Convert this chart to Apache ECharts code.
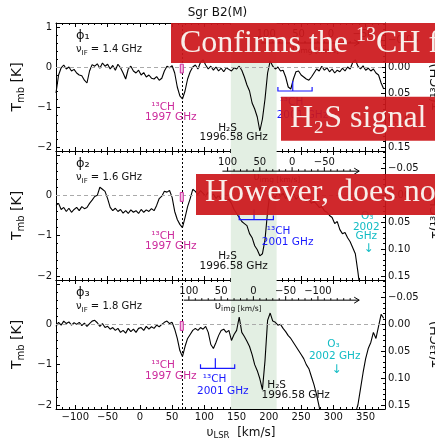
<!DOCTYPE html>
<html><head><meta charset="utf-8">
<script src="https://cdn.jsdelivr.net/npm/echarts@6/dist/echarts.min.js"></script>
<style>html,body{margin:0;padding:0;background:#fff}#c{width:435px;height:439px}</style>
</head><body><div id="c"></div>
<script>
// ---------------- DATA ----------------
const velocity = [
 -130,-126,-122,-118,-114,-110,-106,-102,
 -98,-94,-90,-86,-82,-78,-74,-70,
 -66,-62,-58,-54,-50,-46,-42,-38,
 -34,-30,-26,-22,-18,-14,-10,-6,
 -2,2,6,10,14,18,22,26,
 30,34,38,42,46,50,54,58,
 62,66,70,74,78,82,86,90,
 94,98,102,106,110,114,118,122,
 126,130,134,138,142,146,150,154,
 158,162,166,170,174,178,182,186,
 190,194,198,202,206,210,214,218,
 222,226,230,234,238,242,246,250,
 254,258,262,266,270,274,278,282,
 286,290,294,298,302,306,310,314,
 318,322,326,330,334,338,342,346,
 350,354,358,362,366,370,374,378
];
const tmbPhi1 = [
 -0.65,-0.2,-0.02,0.05,-0.05,0.0,-0.1,-0.06,
 -0.15,-0.2,-0.22,-0.33,-0.4,-0.1,0.06,0.02,
 0.08,-0.03,0.1,0.02,0.07,-0.05,0.04,-0.08,
 0.07,-0.02,-0.15,-0.3,-0.05,0.02,-0.1,-0.15,
 -0.08,-0.2,-0.14,-0.25,-0.2,-0.28,-0.3,-0.24,
 -0.33,-0.28,-0.1,0.02,-0.02,0.03,-0.15,-0.5,
 -0.72,-0.8,-0.6,-0.3,-0.12,0.0,0.05,-0.05,
 0.12,0.18,0.05,-0.05,0.02,-0.08,0.0,-0.1,
 -0.03,-0.12,-0.02,-0.06,-0.1,-0.02,-0.05,0.02,
 -0.08,-0.25,-0.45,-0.6,-0.9,-1.05,-1.25,-1.6,
 -1.3,-0.8,-0.15,0.15,0.02,-0.05,0.0,-0.1,
 -0.08,-0.25,-0.5,-0.55,-0.3,-0.12,-0.1,-0.2,
 -0.25,-0.3,-0.33,-0.25,-0.15,-0.05,-0.1,0.02,
 -0.08,-0.02,-0.12,-0.05,-0.15,-0.08,-0.12,-0.03,
 -0.1,0.0,-0.05,0.12,0.18,0.02,-0.05,0.03,
 -0.08,-0.03,-0.1,-0.05,-0.15,-0.2,-0.4,-0.55
];
const tmbPhi2 = [
 -0.25,-0.2,-0.35,-0.3,-0.4,-0.32,-0.42,-0.35,
 -0.3,-0.38,-0.28,-0.33,-0.3,-0.2,-0.12,-0.03,
 0.0,0.2,0.15,0.1,-0.08,-0.3,-0.38,-0.32,
 -0.4,-0.35,-0.44,-0.38,-0.45,-0.36,-0.42,-0.38,
 -0.45,-0.35,-0.42,-0.36,-0.4,-0.33,-0.38,-0.25,
 -0.08,-0.02,0.1,0.08,0.12,-0.05,-0.4,-0.6,
 -0.72,-0.8,-0.55,-0.28,-0.08,0.15,0.1,0.02,
 0.12,0.05,-0.02,0.08,-0.05,0.03,-0.08,0.0,
 -0.1,-0.05,-0.15,-0.1,-0.2,-0.35,-0.45,-0.55,
 -0.65,-0.7,-0.75,-0.95,-1.05,-1.25,-1.35,-1.5,
 -1.45,-1.1,-0.4,0.1,0.05,-0.05,0.08,-0.02,
 0.05,-0.08,0.0,-0.05,0.05,-0.1,-0.03,-0.12,
 -0.05,-0.15,-0.1,-0.2,-0.15,-0.22,-0.3,-0.28,
 -0.38,-0.42,-0.5,-0.55,-0.7,-0.65,-0.85,-0.95,
 -0.92,-1.05,-1.15,-1.3,-1.45,-1.9,-2.4,-2.6,
 -2.8,-3.0,-3.0,-2.9,-2.8,-2.6,-2.5,-2.4
];
const tmbPhi3 = [
 -0.05,0.05,-0.02,0.08,0.02,0.06,-0.02,0.04,
 0.0,0.05,-0.03,0.03,-0.05,0.02,0.08,0.1,
 0.04,-0.05,0.02,-0.08,-0.05,-0.12,-0.08,-0.15,
 -0.1,-0.2,-0.15,-0.22,-0.1,-0.18,-0.12,-0.2,
 -0.1,-0.08,-0.15,-0.05,-0.12,-0.06,-0.1,-0.02,
 -0.06,0.0,0.05,0.08,0.02,0.05,-0.12,-0.35,
 -0.65,-0.8,-0.55,-0.35,-0.25,-0.15,-0.1,-0.15,
 -0.08,-0.12,-0.05,-0.2,-0.5,-0.6,-0.45,-0.28,
 -0.15,-0.12,-0.2,-0.15,-0.4,-0.25,-0.15,0.18,
 -0.2,-0.3,-0.42,-0.55,-0.75,-1.0,-1.15,-1.35,
 -1.62,-0.9,0.1,0.28,0.08,0.05,-0.02,0.0,
 -0.1,-0.18,-0.28,-0.35,-0.45,-0.55,-0.65,-0.75,
 -0.85,-1.0,-1.1,-1.3,-1.5,-1.75,-2.05,-2.4,
 -2.6,-2.8,-3.0,-3.0,-3.0,-3.0,-3.0,-3.0,
 -2.9,-2.8,-2.6,-2.4,-2.2,-2.0,-1.6,-1.2,
 -0.85,-0.6,-0.45,-0.2,-0.35,-0.05,0.25,0.15
];
const panelLabels = ['\u03D5\u2081','\u03D5\u2082','\u03D5\u2083'];
const ifFreqs = ['1.4 GHz','1.6 GHz','1.8 GHz'];
const xTicks = [-100,-50,0,50,100,150,200,250,300,350];
const tmbTicks = [-2,-1,0,1];
const tauTicks = [-0.05,0,0.05,0.10,0.15];
const imgZeroLSR = [296,236,176];
const imgTickLabels = [[100,50,0,-50],[100,50,0,-50],[100,50,0,-50,-100]];
const hfs13CH2001 = [[214,237,267],[154,177,207],[94,117,147]];
const v13CH1997 = 65;
const h2sBand = [141,212];
const bannerTexts = ['{m|Confirms the }{u|13}{m|CH feature}','H\u2082S signal likely','However, does not explain'];

// ---------------- LAYOUT / STYLE ----------------
const FONT = 'DejaVu Sans';
const MAGENTA = '#cc2a9c', BLUE = '#1a1aff', CYAN = '#12bcc4', INK = '#111';
const GRIDS = [{top:23,height:128},{top:151,height:129},{top:280,height:129}];
const tmbRange = [-2.1, 1.1];
const tauRange = [-0.0825, 0.1575];
const xRange = [-130, 380];
const annot = [
  {ch97:[[36,-1.0],[48,-1.26]], h2s:[[136,-1.53],[145.5,-1.75]], ch01:[[235,-0.87],[252,-1.2]], brT:-0.6, o3:null},
  {ch97:[[36,-1.01],[48,-1.27]], h2s:[[136,-1.52],[145.5,-1.77]], ch01:[[215,-0.89],[229,-1.16]], brT:-0.6,
   o3:{lines:[[352.5,-0.52,'O\u2083'],[351,-0.8,'2002'],[351,-1.01,'GHz']], arrow:[354.5,-1.34]}},
  {ch97:[[36,-1.01],[48,-1.28]], h2s:[[212,-1.52],[241.5,-1.77]], ch01:[[116,-1.36],[128.5,-1.65]], brT:-1.09,
   o3:{lines:[[300.3,-0.49,'O\u2083'],[302,-0.79,'2002 GHz']], arrow:[305,-1.13]}}
];
const series3 = [tmbPhi1, tmbPhi2, tmbPhi3];
const minusFmt = v => String(v).replace('-', '\u2212');
function range(a,b,s){const r=[];for(let k=0;a+k*s<=b+1e-9;k++)r.push(+(a+k*s).toFixed(4));return r;}
const xMinor = range(-130,380,10);
const tmbMinor = range(-2.0,1.0,0.2);
const tauMinor = range(-0.08,0.15,0.01);

function txt(x,y,text,extra){
  return {type:'text', x:x, y:y, silent:true, style:Object.assign({text:text, fill:INK, fontSize:10, fontFamily:FONT,
    align:'center', verticalAlign:'middle', textAlign:'center', textVerticalAlign:'middle'}, extra||{})};
}

const xAxes=[], yAxes=[], seriesList=[];
const tickStyle = {color:'#000', width:1};
for (let i=0;i<3;i++){
  const base = {gridIndex:i, type:'value', min:xRange[0], max:xRange[1], splitLine:{show:false}};
  xAxes.push(Object.assign({}, base, {position:'bottom', axisLine:{onZero:false, lineStyle:{color:'#000',width:1}},
    axisTick:{inside:true, length:4, customValues:xTicks, lineStyle:tickStyle},
    axisLabel:{show:i===2, customValues:xTicks, formatter:minusFmt, fontSize:10, color:INK, fontFamily:FONT, margin:3}}));
  xAxes.push(Object.assign({}, base, {position:'bottom', axisLine:{show:false, onZero:false},
    axisTick:{inside:true, length:2, customValues:xMinor, lineStyle:tickStyle}, axisLabel:{show:false}}));
  xAxes.push(Object.assign({}, base, {position:'top', axisLine:{onZero:false, lineStyle:{color:'#000',width:1}},
    axisTick:{inside:true, length:4, customValues:xTicks, lineStyle:tickStyle}, axisLabel:{show:false}}));
  xAxes.push(Object.assign({}, base, {position:'top', axisLine:{show:false, onZero:false},
    axisTick:{inside:true, length:2, customValues:xMinor, lineStyle:tickStyle}, axisLabel:{show:false}}));

  const yb = {gridIndex:i, type:'value', splitLine:{show:false}};
  yAxes.push(Object.assign({}, yb, {min:tmbRange[0], max:tmbRange[1], position:'left',
    axisLine:{onZero:false, lineStyle:{color:'#000',width:1}},
    axisTick:{inside:true, length:4, customValues:tmbTicks, lineStyle:tickStyle},
    axisLabel:{customValues: i===0 ? tmbTicks : [-2,-1,0], formatter:minusFmt, fontSize:10, color:INK, fontFamily:FONT, margin:4},
    name:'{t|T}{s|mb}{t| [K]}', nameLocation:'middle', nameGap:30,
    nameTextStyle:{color:INK, fontFamily:FONT, rich:{t:{fontSize:14, lineHeight:18, fontFamily:FONT, color:INK}, s:{fontSize:10, lineHeight:10, verticalAlign:'bottom', fontFamily:FONT, color:INK}}}}));
  yAxes.push(Object.assign({}, yb, {min:tmbRange[0], max:tmbRange[1], position:'left',
    axisLine:{show:false, onZero:false}, axisTick:{inside:true, length:2, customValues:tmbMinor, lineStyle:tickStyle}, axisLabel:{show:false}}));
  yAxes.push(Object.assign({}, yb, {min:tauRange[0], max:tauRange[1], inverse:true, position:'right',
    axisLine:{onZero:false, lineStyle:{color:'#000',width:1}},
    axisTick:{inside:true, length:4, customValues:tauTicks, lineStyle:tickStyle},
    axisLabel:{customValues:tauTicks, formatter:v=>minusFmt(v.toFixed(2)), fontSize:10, color:INK, fontFamily:FONT, margin:3},
    name:'\u03C4(\u00B9\u00B3CH)', nameLocation:'middle', nameGap:38,
    nameTextStyle:{color:INK, fontFamily:FONT, fontSize:13}}));
  yAxes.push(Object.assign({}, yb, {min:tauRange[0], max:tauRange[1], inverse:true, position:'right',
    axisLine:{show:false, onZero:false}, axisTick:{inside:true, length:2, customValues:tauMinor, lineStyle:tickStyle}, axisLabel:{show:false}}));

  const vals = series3[i];
  seriesList.push({
    type:'line', xAxisIndex:4*i, yAxisIndex:4*i, data: velocity.map((v,k)=>[v, vals[k]]),
    showSymbol:false, symbol:'none', lineStyle:{color:'#000', width:1.1}, z:3, clip:true,
    markArea:{silent:true, itemStyle:{color:'#e3efe3'}, data:[[{xAxis:h2sBand[0]},{xAxis:h2sBand[1]}]]},
    markLine:{silent:true, symbol:['none','none'], label:{show:false}, animation:false,
      data:[{yAxis:0, lineStyle:{color:'#aaaaaa', type:[4,3], width:1}},
            {xAxis:v13CH1997, lineStyle:{color:'#000', type:[2,2], width:1}}]}
  });
  seriesList.push({
    type:'custom', xAxisIndex:4*i, yAxisIndex:4*i, data:[[0,0]], silent:true, z:6, clip:false,
    renderItem:function(params, api){
      const C = (v,t)=>api.coord([v,t]);
      const a = annot[i], ch = [];
      let p = C(-99, 0.79);
      ch.push(txt(p[0],p[1],panelLabels[i],{fontSize:13, align:'left', textAlign:'left'}));
      p = C(-99, 0.44);
      ch.push(txt(p[0],p[1],'{a|\u03BD}{s|IF}{a| = '+ifFreqs[i]+'}',{align:'left', textAlign:'left',
        rich:{a:{fontSize:10, lineHeight:14, fontFamily:FONT, fill:INK}, s:{fontSize:7, lineHeight:7, verticalAlign:'bottom', fontFamily:FONT, fill:INK}}}));
      const m0 = C(v13CH1997, 0.07), m1 = C(v13CH1997, -0.15);
      ch.push({type:'rect', shape:{x:m0[0]-1.5, y:m0[1], width:3, height:m1[1]-m0[1]}, style:{fill:'#f2c4e4', stroke:MAGENTA, lineWidth:1}});
      p = C(a.ch97[0][0], a.ch97[0][1]); ch.push(txt(p[0],p[1],'\u00B9\u00B3CH',{fill:MAGENTA, fontSize:10.5}));
      p = C(a.ch97[1][0], a.ch97[1][1]); ch.push(txt(p[0],p[1],'1997 GHz',{fill:MAGENTA, fontSize:10.5}));
      p = C(a.h2s[0][0], a.h2s[0][1]); ch.push(txt(p[0],p[1],'H\u2082S',{fontSize:10.5}));
      p = C(a.h2s[1][0], a.h2s[1][1]); ch.push(txt(p[0],p[1],'1996.58 GHz',{fontSize:10.5}));
      const h = hfs13CH2001[i], bT = a.brT;
      const b0 = C(h[0], bT+0.1), b1 = C(h[0], bT), b2 = C(h[2], bT), b3 = C(h[2], bT+0.1);
      ch.push({type:'polyline', shape:{points:[b0,b1,b2,b3]}, style:{stroke:BLUE, fill:null, lineWidth:1.2}});
      const c0 = C(h[1], bT), c1 = C(h[1], bT+0.25);
      ch.push({type:'line', shape:{x1:c0[0],y1:c0[1],x2:c1[0],y2:c1[1]}, style:{stroke:BLUE, lineWidth:1.2}});
      p = C(a.ch01[0][0], a.ch01[0][1]); ch.push(txt(p[0],p[1],'\u00B9\u00B3CH',{fill:BLUE, fontSize:10.5}));
      p = C(a.ch01[1][0], a.ch01[1][1]); ch.push(txt(p[0],p[1],'2001 GHz',{fill:BLUE, fontSize:10.5}));
      if (a.o3){
        a.o3.lines.forEach(l=>{const q=C(l[0],l[1]); ch.push(txt(q[0],q[1],l[2],{fill:CYAN, fontSize:10.5}));});
        const q=C(a.o3.arrow[0],a.o3.arrow[1]); ch.push(txt(q[0],q[1],'\u2193',{fill:CYAN, fontSize:12}));
      }
      const z = imgZeroLSR[i], yT = 0.6;
      const s0 = C(z-108, yT), s1 = C(340, yT);
      ch.push({type:'line', shape:{x1:s0[0],y1:s0[1],x2:s1[0],y2:s1[1]}, style:{stroke:'#000', lineWidth:1}});
      ch.push({type:'polyline', shape:{points:[[s1[0]-5,s1[1]-3],[s1[0],s1[1]],[s1[0]-5,s1[1]+3]]}, style:{stroke:'#000', fill:null, lineWidth:1}});
      for (let img=100; z-img < 336; img-=10){
        const t = C(z-img, yT);
        const major = imgTickLabels[i].indexOf(img) >= 0;
        ch.push({type:'line', shape:{x1:t[0],y1:t[1],x2:t[0],y2:t[1]-(major?4:2)}, style:{stroke:'#000', lineWidth:1}});
      }
      imgTickLabels[i].forEach(img=>{
        const t = C(z-img, yT);
        ch.push(txt(t[0], t[1]-9, minusFmt(img), {fontSize:10}));
      });
      const nl = C(z-60, yT);
      ch.push(txt(nl[0], nl[1]+6, '{a|\u03C5}{s|img [km/s]}', {align:'left', textAlign:'left',
        rich:{a:{fontSize:11, lineHeight:13, fontFamily:FONT, fill:INK}, s:{fontSize:7.5, lineHeight:8, verticalAlign:'bottom', fontFamily:FONT, fill:INK}}}));
      return {type:'group', children:ch};
    }
  });
}

const BANNER = 'rgba(204,24,28,0.93)', BTXT = '#f8eeea', BFONT = '"Liberation Serif","DejaVu Serif",serif';
function banner(x,y,w,h,tx,ty,text){
  return [
    {type:'rect', z:100, silent:true, shape:{x:x,y:y,width:w,height:h}, style:{fill:BANNER}},
    {type:'text', z:101, silent:true, x:tx, y:ty, style:{text:text, fill:BTXT, fontSize:32, fontFamily:BFONT,
      align:'left', verticalAlign:'middle', textAlign:'left', textVerticalAlign:'middle',
      rich:{m:{fontSize:32, lineHeight:36, fontFamily:BFONT, fill:BTXT}, u:{fontSize:20, lineHeight:20, verticalAlign:'top', fontFamily:BFONT, fill:BTXT}}}}
  ];
}

const option = {
  animation:false, backgroundColor:'#fff', textStyle:{fontFamily:FONT},
  title:{text:'Sgr B2(M)', left:'center', top:7, padding:0, textStyle:{fontSize:12, fontWeight:'normal', color:INK, fontFamily:FONT}},
  grid: GRIDS.map(g=>({left:56, right:50, top:g.top, height:g.height, containLabel:false, outerBoundsMode:'none'})),
  xAxis:xAxes, yAxis:yAxes, series:seriesList,
  graphic:[
    {type:'text', x:241, y:433, silent:true, style:{text:'{a|\u03C5}{s|LSR}{a|  [km/s]}', align:'center', verticalAlign:'middle', textAlign:'center', textVerticalAlign:'middle',
      rich:{a:{fontSize:12, lineHeight:15, fontFamily:FONT, fill:INK}, s:{fontSize:8.5, lineHeight:9, verticalAlign:'bottom', fontFamily:FONT, fill:INK}}}}
  ].concat(
    banner(171,23,270,40,180,44,bannerTexts[0]),
    banner(281,96.7,160,44,290,119,bannerTexts[1]),
    banner(196,174,245,41,205,192.5,bannerTexts[2])
  )
};
const chart = echarts.init(document.getElementById('c'), null, {renderer:'canvas'});
chart.setOption(option);
</script>
</body></html>
